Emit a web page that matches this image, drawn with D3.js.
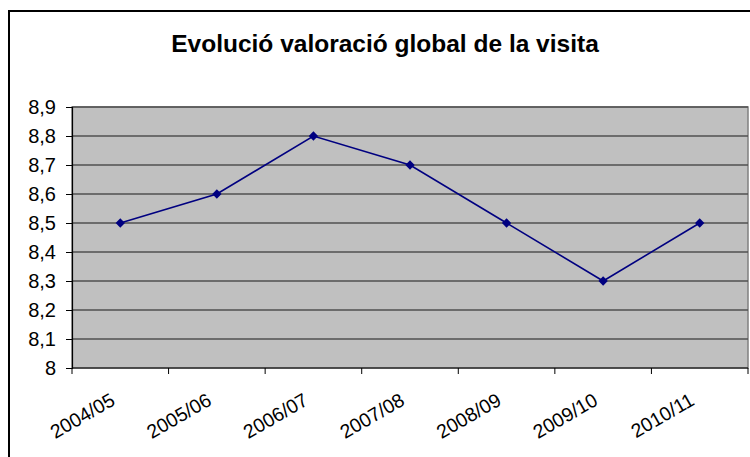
<!DOCTYPE html>
<html lang="ca">
<head>
<meta charset="UTF-8">
<title>Evolució valoració global de la visita</title>
<script src="https://d3js.org/d3.v7.min.js"></script>
<style>
  body { margin: 0; background: white; }
  svg { display: block; font-family: "Liberation Sans", Arial, sans-serif; }
</style>
</head>
<body>
<svg width="750" height="457"></svg>
<script>
const cursos = ["2004/05", "2005/06", "2006/07", "2007/08", "2008/09", "2009/10", "2010/11"];
const valoracio = [8.5, 8.6, 8.8, 8.7, 8.5, 8.3, 8.5];
const yTicks = [8, 8.1, 8.2, 8.3, 8.4, 8.5, 8.6, 8.7, 8.8, 8.9];

const svg = d3.select("svg");
const plot = { left: 72, top: 107, right: 748, bottom: 368 };

// outer frame (runs past the right/bottom edge)
svg.append("rect")
  .attr("x", 9).attr("y", 11).attr("width", 760).attr("height", 470)
  .attr("fill", "white").attr("stroke", "black").attr("stroke-width", 2);

svg.append("text")
  .attr("x", 385).attr("y", 52)
  .attr("text-anchor", "middle")
  .attr("font-size", 24.5).attr("font-weight", "bold")
  .text("Evolució valoració global de la visita");

const x = d3.scaleBand().domain(cursos).range([plot.left, plot.right]);
const y = d3.scaleLinear().domain([8, 8.9]).range([plot.bottom, plot.top]);

svg.append("rect")
  .attr("x", plot.left).attr("y", plot.top)
  .attr("width", plot.right - plot.left).attr("height", plot.bottom - plot.top)
  .attr("fill", "#c0c0c0").attr("stroke", "#808080").attr("stroke-width", 1.5);

// gridlines
svg.append("g").selectAll("line")
  .data(yTicks.slice(1))
  .enter().append("line")
  .attr("x1", plot.left).attr("x2", plot.right)
  .attr("y1", d => y(d)).attr("y2", d => y(d))
  .attr("stroke", "#505050").attr("stroke-width", 1.6);

// y axis
const yAxis = svg.append("g")
  .attr("transform", `translate(${plot.left},0)`)
  .call(d3.axisLeft(y).tickValues(yTicks).tickSize(6).tickPadding(10)
    .tickFormat(d => d3.format(".1~f")(d).replace(".", ",")));
yAxis.select(".domain").attr("stroke", "black").attr("stroke-width", 1.2);
yAxis.selectAll(".tick line").attr("stroke", "black");
yAxis.selectAll("text").attr("font-size", 20).attr("fill", "black")
  .attr("font-family", "Liberation Sans, Arial, sans-serif");

// x axis: ticks at band boundaries
const xb = svg.append("g").attr("transform", `translate(0,${plot.bottom})`);
xb.append("line").attr("x1", plot.left).attr("x2", plot.right)
  .attr("stroke", "black").attr("stroke-width", 1.2);
xb.selectAll("line.tk")
  .data(cursos.concat(["end"]))
  .enter().append("line").attr("class", "tk")
  .attr("x1", (d, i) => plot.left + i * x.bandwidth())
  .attr("x2", (d, i) => plot.left + i * x.bandwidth())
  .attr("y1", 0).attr("y2", 6)
  .attr("stroke", "black");
xb.selectAll("text")
  .data(cursos)
  .enter().append("text")
  .attr("transform", d => `translate(${x(d) + x.bandwidth() / 2 - 4},${36}) rotate(-30)`)
  .attr("text-anchor", "end")
  .attr("font-size", 19.5)
  .text(d => d);

// series
const cx = d => x(d) + x.bandwidth() / 2;
svg.append("path")
  .datum(valoracio)
  .attr("fill", "none").attr("stroke", "#000080").attr("stroke-width", 1.6)
  .attr("d", d3.line().x((d, i) => cx(cursos[i])).y(d => y(d)));

svg.append("g").selectAll("path")
  .data(valoracio)
  .enter().append("path")
  .attr("d", d3.symbol().type(d3.symbolDiamond2).size(55))
  .attr("transform", (d, i) => `translate(${cx(cursos[i])},${y(d)})`)
  .attr("fill", "#000080");
</script>
</body>
</html>
